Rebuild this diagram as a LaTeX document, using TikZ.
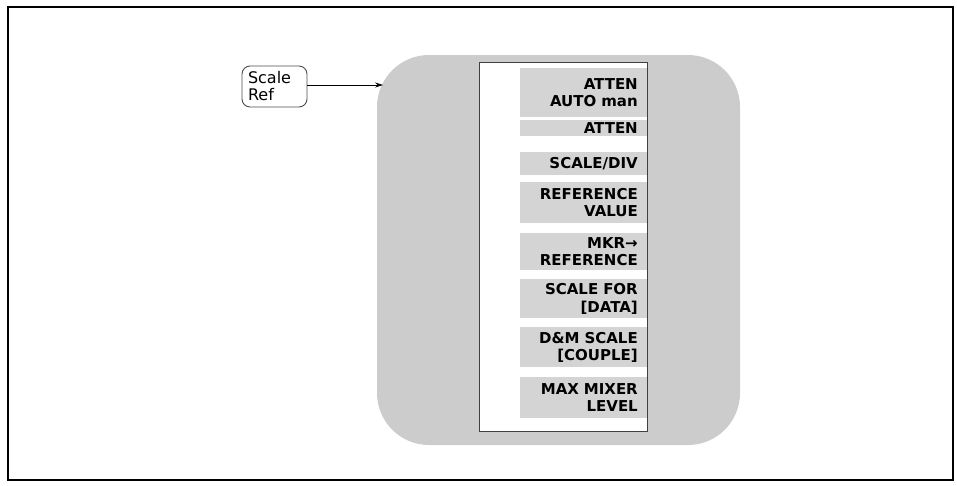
\documentclass[tikz,border=0pt]{standalone}
\usepackage{fontspec}
\setsansfont{DejaVu Sans}
\usetikzlibrary{positioning, arrows.meta}

\begin{document}
\begin{tikzpicture}[
        x=1pt, y=-1pt,
        menu/.style={
            rectangle,
            fill=black!20,
            rounded corners=52pt, % big soft corners
            minimum width=363pt,
            minimum height=390pt
        },
        panel/.style={
            rectangle,
            draw=black!75,
            fill=white,
            line width=0.8pt,
            minimum width=168pt,
            minimum height=369pt
        },
        softkey/.style={
            rectangle,
            fill=black!17,
            anchor=north east,
            minimum width=127pt,
            text width=109pt,
            inner xsep=9pt,
            inner ysep=0pt,
            align=right,
            font=\sffamily\bfseries\fontsize{15}{17.5}\selectfont
        },
        hardkey/.style={
            rectangle,
            draw=black!70,
            line width=0.9pt,
            rounded corners=8pt,
            minimum width=65pt,
            minimum height=41pt,
            text width=53pt,
            inner xsep=6pt,
            align=left,
            font=\sffamily\fontsize{16}{17}\selectfont
        },
        line/.style={draw, -{Stealth[length=8pt, width=5pt]}, line width=0.7pt}
    ]
        \useasboundingbox (0,0) rectangle (957,485);
        \draw [line width=2pt] (7.5,7) rectangle (952.5,480);

        % Nodes
        \node [hardkey] (scaleref) at (274.5,86.5) {Scale\\Ref};
        \node [menu] (menu) at (558.5,250) {};
        \node [panel] (panel) at (563,246.5) {};

        \node [softkey, minimum height=49pt] (atten auto) at (647,68) {ATTEN\\AUTO man};
        \node [softkey, minimum height=16pt] (atten) at (647,120) {ATTEN};
        \node [softkey, minimum height=23pt] (scale div) at (647,152) {SCALE/DIV};
        \node [softkey, minimum height=41pt] (ref value) at (647,182) {REFERENCE\\VALUE};
        \node [softkey, minimum height=37pt] (mkr ref) at (647,233) {MKR→\\REFERENCE};
        \node [softkey, minimum height=39pt] (scale data) at (647,279) {SCALE FOR\\{[DATA]}};
        \node [softkey, minimum height=40pt] (dm scale) at (647,327) {D\&M SCALE\\{[COUPLE]}};
        \node [softkey, minimum height=41pt] (mixer) at (647,377) {MAX MIXER\\LEVEL};

        \coordinate (tip) at (383,85);

        % Paths
        \path [line] (scaleref.east |- tip) -- (tip);
    \end{tikzpicture}
\end{document}
